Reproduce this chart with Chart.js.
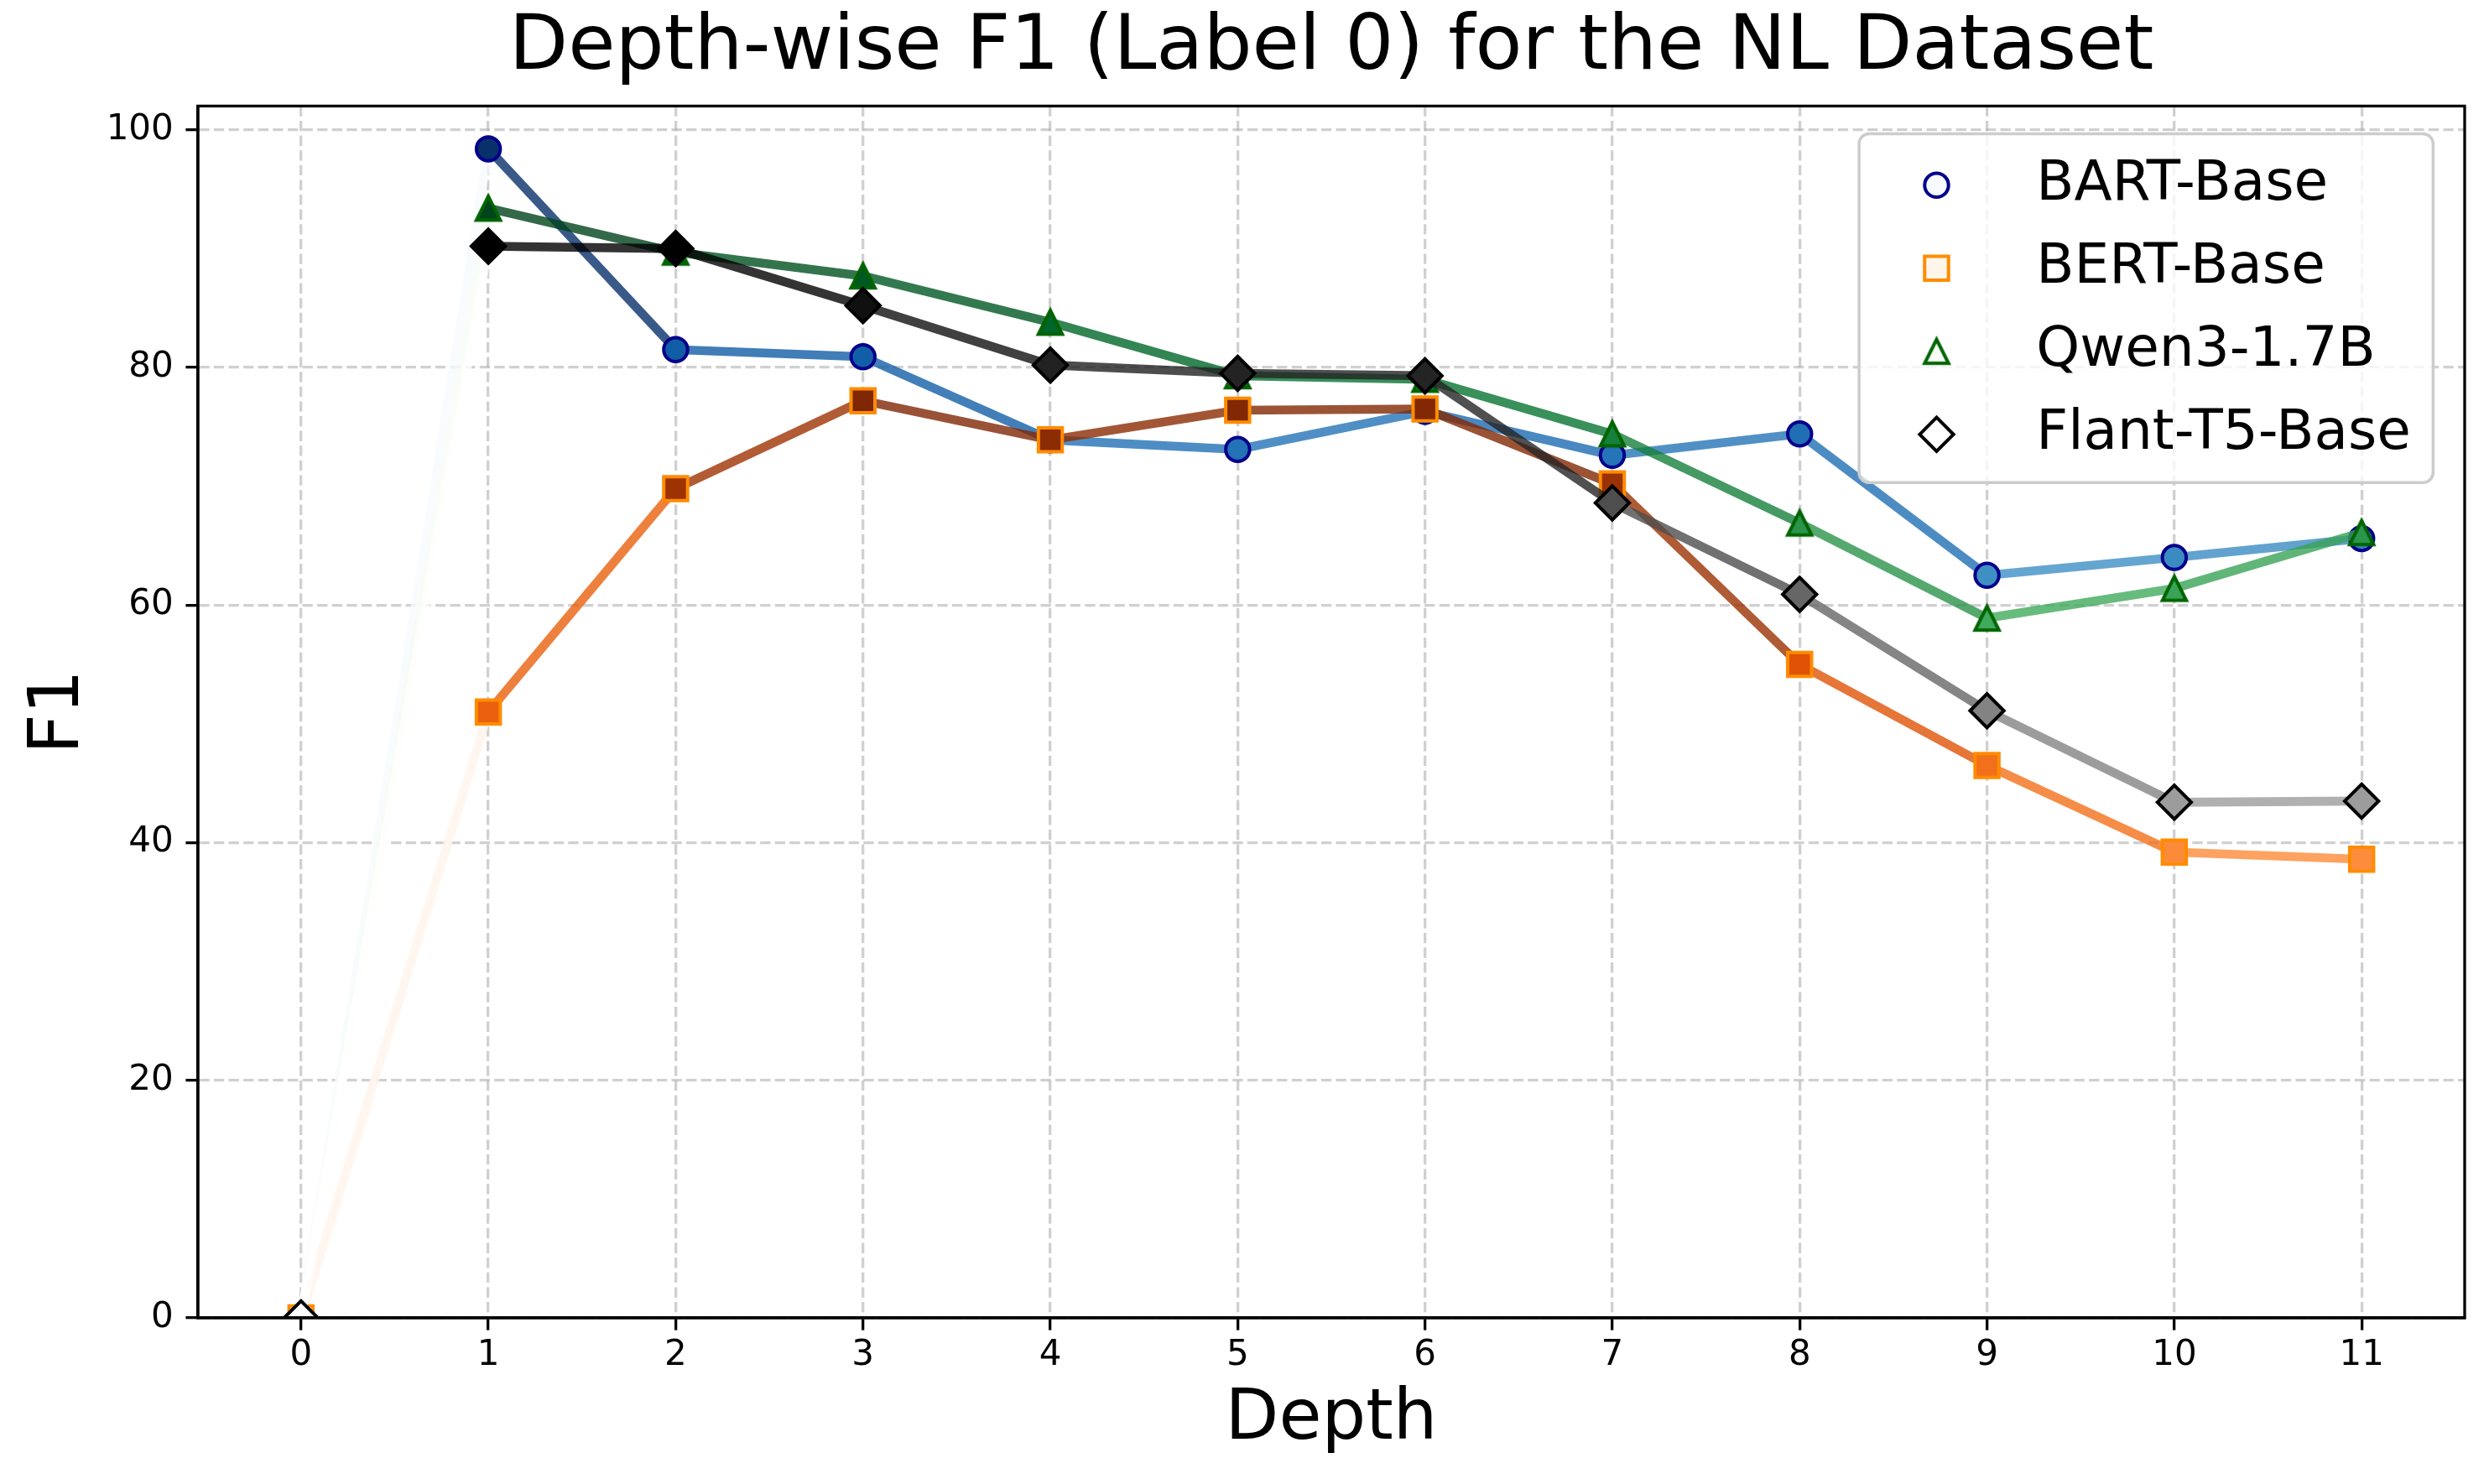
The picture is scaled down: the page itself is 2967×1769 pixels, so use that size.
<!DOCTYPE html>
<html>
<head>
<meta charset="utf-8">
<script src="https://cdn.jsdelivr.net/npm/chart.js@4.4.1/dist/chart.umd.min.js"></script>
<style>
html, body { margin: 0; padding: 0; background: #ffffff; }
#wrap { width: 2967px; height: 1769px; }
canvas { display: block; }
</style>
</head>
<body>
<div id="wrap"><canvas id="chart" width="2967" height="1769" style="width:2967px;height:1769px;"></canvas></div>
<script>
// ---------------- data ----------------
const depths = [0, 1, 2, 3, 4, 5, 6, 7, 8, 9, 10, 11];
const bartF1  = [0, 98.4, 81.5, 80.9, 73.9, 73.1, 76.3, 72.6, 74.4, 62.5, 64.0, 65.6];
const bertF1  = [0, 51.0, 69.8, 77.2, 73.9, 76.4, 76.5, 70.2, 55.0, 46.5, 39.2, 38.6];
const qwenF1  = [0, 93.4, 89.7, 87.7, 83.8, 79.3, 79.0, 74.4, 66.9, 58.9, 61.4, 66.1];
const flantF1 = [0, 90.2, 90.0, 85.2, 80.2, 79.5, 79.3, 68.6, 60.9, 51.1, 43.4, 43.5];
const seriesLabels = ['BART-Base', 'BERT-Base', 'Qwen3-1.7B', 'Flant-T5-Base'];
const xTicks = [0, 1, 2, 3, 4, 5, 6, 7, 8, 9, 10, 11];
const yTicks = [0, 20, 40, 60, 80, 100];
const titleText = 'Depth-wise F1 (Label 0) for the NL Dataset';
const xLabel = 'Depth';
const yLabel = 'F1';

// ---------------- styling ----------------
const FONT = "'DejaVu Sans', sans-serif";
const CMAP_STOPS = {
  Blues:   ['#f7fbff','#deebf7','#c6dbef','#9ecae1','#6baed6','#4292c6','#2171b5','#08519c','#08306b'],
  Oranges: ['#fff5eb','#fee6ce','#fdd0a2','#fdae6b','#fd8d3c','#f16913','#d94801','#a63603','#7f2704'],
  Greens:  ['#f7fcf5','#e5f5e0','#c7e9c0','#a1d99b','#74c476','#41ab5d','#238b45','#006d2c','#00441b'],
  Greys:   ['#ffffff','#f0f0f0','#d9d9d9','#bdbdbd','#969696','#737373','#525252','#252525','#000000']
};
function hexRgb(h) { return [1, 3, 5].map(i => parseInt(h.slice(i, i + 2), 16)); }
function cmapColor(name, t, alpha) {
  const stops = CMAP_STOPS[name].map(hexRgb);
  t = Math.min(1, Math.max(0, t));
  const pos = t * (stops.length - 1);
  const i = Math.min(Math.floor(pos), stops.length - 2);
  const f = pos - i;
  const c = stops[i].map((v, k) => Math.round(v + (stops[i + 1][k] - v) * f));
  return `rgba(${c[0]},${c[1]},${c[2]},${alpha})`;
}

const MARKER_D = 28.5; // marker path size in px
const EDGE_W = 4;      // marker edge width
const LINE_W = 10.6;   // line width
const SPINE_W = 3.3;

function triCanvas(fill, stroke) {
  const s = 50;
  const c = document.createElement('canvas');
  c.width = s; c.height = s;
  const g = c.getContext('2d');
  const h = MARKER_D / 2, cx = s / 2, cy = s / 2;
  g.beginPath();
  g.moveTo(cx, cy - h);
  g.lineTo(cx - h, cy + h);
  g.lineTo(cx + h, cy + h);
  g.closePath();
  g.fillStyle = fill;
  g.fill();
  g.lineJoin = 'miter';
  g.lineWidth = EDGE_W;
  g.strokeStyle = stroke;
  g.stroke();
  return c;
}

const seriesDefs = [
  { label: seriesLabels[0], values: bartF1,  cmap: 'Blues',   edge: '#00008b', marker: 'circle' },
  { label: seriesLabels[1], values: bertF1,  cmap: 'Oranges', edge: '#ff8c00', marker: 'rect' },
  { label: seriesLabels[2], values: qwenF1,  cmap: 'Greens',  edge: '#006400', marker: 'triangle' },
  { label: seriesLabels[3], values: flantF1, cmap: 'Greys',   edge: '#000000', marker: 'rectRot' }
];

seriesDefs.forEach(s => {
  const maxV = Math.max(...s.values);
  const minV = Math.min(...s.values);
  const norm = v => (v - minV) / (maxV - minV);
  s.faces = s.values.map(v => cmapColor(s.cmap, norm(v), 1));
  s.segColors = s.values.map(v => cmapColor(s.cmap, norm(v), 0.8));
  s.radius = s.marker === 'circle' ? MARKER_D / 2 : MARKER_D / Math.SQRT2;
  s.pointStyle = s.marker === 'triangle' ? s.faces.map(f => triCanvas(f, s.edge)) : s.marker;
});

const datasets = seriesDefs.map((s, idx) => ({
  label: s.label,
  data: depths.map((d, i) => ({ x: d, y: s.values[i] })),
  borderWidth: LINE_W,
  borderColor: s.segColors[1],
  borderCapStyle: 'butt',
  segment: { borderColor: c => s.segColors[c.p0DataIndex] },
  tension: 0,
  fill: false,
  pointStyle: s.pointStyle,
  pointRadius: s.radius,
  pointHoverRadius: s.radius,
  pointBackgroundColor: s.faces,
  pointBorderColor: s.edge,
  pointBorderWidth: EDGE_W,
  pointHoverBorderWidth: EDGE_W,
  clip: 0,
  order: seriesDefs.length - idx
}));

// matplotlib-like legend inside the axes (upper right) + full frame
const mplLegend = {
  id: 'mplLegend',
  afterDatasetsDraw(chart) {
    const ctx = chart.ctx, a = chart.chartArea;
    const fs = 66;
    ctx.save();
    ctx.font = `${fs}px ${FONT}`;
    const textW = Math.max(...seriesDefs.map(s => ctx.measureText(s.label).width));
    const pad = 0.4 * fs, handleLen = 2 * fs, handlePad = 0.8 * fs, spacing = 0.5 * fs, rowH = fs;
    const w = pad * 2 + handleLen + handlePad + textW;
    const h = pad * 2 + seriesDefs.length * rowH + (seriesDefs.length - 1) * spacing;
    const right = a.right - 0.57 * fs;
    const top = a.top + 0.5 * fs;
    const left = right - w;
    ctx.beginPath();
    ctx.roundRect(left, top, w, h, 12);
    ctx.fillStyle = 'rgba(255,255,255,0.8)';
    ctx.fill();
    ctx.lineWidth = 3.5;
    ctx.strokeStyle = '#cccccc';
    ctx.stroke();
    seriesDefs.forEach((s, i) => {
      const cy = top + pad + rowH / 2 + 2 + i * (rowH + spacing);
      const mx = left + pad + handleLen / 2;
      if (s.marker === 'triangle') {
        const img = s.pointStyle[0];
        ctx.drawImage(img, mx - img.width / 2, cy - img.height / 2);
      } else {
        ctx.fillStyle = s.faces[0];
        ctx.strokeStyle = s.edge;
        ctx.lineWidth = EDGE_W;
        ctx.lineJoin = 'miter';
        Chart.helpers.drawPoint(ctx, { pointStyle: s.marker, radius: s.radius, borderWidth: EDGE_W, rotation: 0 }, mx, cy);
      }
      ctx.fillStyle = '#000000';
      ctx.textAlign = 'left';
      ctx.textBaseline = 'alphabetic';
      ctx.fillText(s.label, left + pad + handleLen + handlePad, cy + 17.5);
    });
    ctx.restore();
  },
  afterDraw(chart) {
    const ctx = chart.ctx, a = chart.chartArea;
    ctx.save();
    ctx.lineWidth = SPINE_W;
    ctx.strokeStyle = '#000000';
    ctx.lineJoin = 'miter';
    ctx.strokeRect(a.left, a.top, a.right - a.left, a.bottom - a.top);
    ctx.restore();
  }
};

const gridOpts = {
  color: 'rgba(176,176,176,0.6)',
  lineWidth: 3.3,
  drawTicks: true,
  tickLength: 14.6,
  tickColor: '#000000',
  tickWidth: 3.3
};
const borderOpts = { display: true, color: '#000000', width: SPINE_W, dash: [12.3, 5.3], z: 1 };

new Chart(document.getElementById('chart'), {
  type: 'line',
  data: { datasets },
  plugins: [mplLegend],
  options: {
    responsive: false,
    devicePixelRatio: 1,
    animation: false,
    events: [],
    layout: { padding: { left: 0, top: 0, right: 29, bottom: 0 } },
    plugins: {
      legend: { display: false },
      tooltip: { enabled: false },
      title: {
        display: true,
        text: titleText,
        fullSize: false,
        color: '#000000',
        font: { family: FONT, size: 91.5, weight: 'normal', lineHeight: 1.2 },
        padding: { top: 3, bottom: 13.6 }
      }
    },
    scales: {
      x: {
        type: 'linear',
        min: -0.55,
        max: 11.55,
        bounds: 'data',
        afterBuildTicks: s => { s.ticks = xTicks.map(v => ({ value: v })); },
        afterFit: s => { s.height = 198; },
        ticks: { font: { family: FONT, size: 42 }, color: '#000000', padding: 5, maxRotation: 0, autoSkip: false },
        grid: gridOpts,
        border: borderOpts,
        title: { display: true, text: xLabel, color: '#000000', font: { family: FONT, size: 83, lineHeight: 1.2 }, padding: { top: 0, bottom: 26 } }
      },
      y: {
        type: 'linear',
        min: 0,
        max: 102,
        bounds: 'data',
        afterBuildTicks: s => { s.ticks = yTicks.map(v => ({ value: v })); },
        afterFit: s => { s.width = 236; },
        ticks: { font: { family: FONT, size: 42 }, color: '#000000', padding: 14.6, autoSkip: false },
        grid: gridOpts,
        border: borderOpts,
        title: { display: true, text: yLabel, color: '#000000', font: { family: FONT, size: 83, lineHeight: 1.2 }, padding: { top: 21.5, bottom: 0 } }
      }
    }
  }
});
</script>
</body>
</html>
